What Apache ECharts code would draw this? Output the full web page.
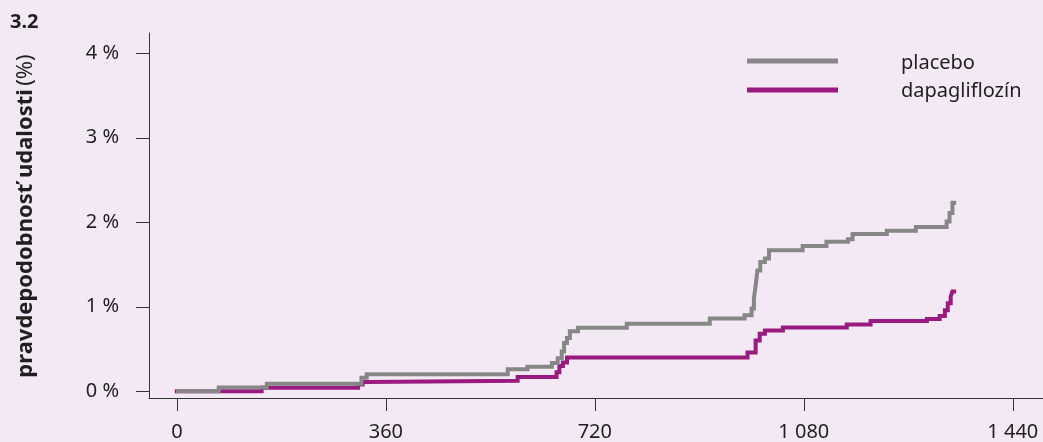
<!DOCTYPE html>
<html>
<head>
<meta charset="utf-8">
<script src="https://cdn.jsdelivr.net/npm/echarts@6/dist/echarts.min.js"></script>
<style>
  html, body { margin: 0; padding: 0; background: #f3e9f5; }
  #chart { width: 1043px; height: 442px; }
</style>
</head>
<body>
<div id="chart"></div>
<script>
// ---- data (day, cumulative event probability in %) ----
const placeboData = [
  [2, 0], [72, 0.045], [155, 0.09], [318, 0.16], [327, 0.20], [570, 0.26], [604, 0.29],
  [646, 0.335], [656, 0.39], [663, 0.47], [667, 0.57], [672, 0.63], [677, 0.71],
  [691, 0.75], [775, 0.80], [918, 0.86], [978, 0.90], [990, 0.98], [994, 1.10],
  [997, 1.25], [1000, 1.43], [1005, 1.53], [1013, 1.57], [1020, 1.67], [1078, 1.72],
  [1119, 1.77], [1156, 1.80], [1164, 1.86], [1223, 1.90], [1273, 1.945], [1326, 2.01],
  [1331, 2.11], [1336, 2.23], [1339, 2.23]
];
const dapagliflozinData = [
  [0, 0], [146, 0.04], [312, 0.08], [320, 0.11], [329, 0.125], [587, 0.17], [654, 0.225],
  [659, 0.30], [665, 0.34], [672, 0.40], [983, 0.46], [997, 0.60], [1004, 0.68],
  [1013, 0.72], [1044, 0.755], [1154, 0.79], [1195, 0.83], [1292, 0.855], [1314, 0.89],
  [1323, 0.96], [1328, 1.04], [1333, 1.12], [1336, 1.18], [1339, 1.18]
];
const seriesNames = ['placebo', 'dapagliflozín'];
const xTickValues = [0, 360, 720, 1080, 1440];
const xTickLabels = ['0', '360', '720', '1 080', '1 440'];
const yTickValues = [0, 1, 2, 3, 4];
const yTickLabels = ['0 %', '1 %', '2 %', '3 %', '4 %'];
const figureLabel = '3.2';
const yAxisTitleBold = 'pravdepodobnosť udalosti';
const yAxisTitleUnit = '(%)';

const GRAY = '#878787';
const PURPLE = '#9a1b80';
const FONT = 'Noto Sans';
const TXT = '#1f1f1f';

const chart = echarts.init(document.getElementById('chart'), null, { renderer: 'canvas' });
chart.setOption({
  backgroundColor: '#f3e9f5',
  animation: false,
  grid: { left: 149, right: 0, top: 33, bottom: 40, containLabel: false },
  xAxis: {
    type: 'value',
    min: -48, max: 1492,
    axisLine: { show: true, onZero: false, lineStyle: { color: '#333', width: 1 } },
    axisTick: { show: true, length: 13, customValues: xTickValues, lineStyle: { color: '#333', width: 1 } },
    axisLabel: {
      customValues: xTickValues,
      margin: 24,
      fontFamily: FONT, fontSize: 20, color: TXT,
      formatter: v => xTickLabels[xTickValues.indexOf(v)]
    },
    splitLine: { show: false }
  },
  yAxis: {
    type: 'value',
    min: -0.08, max: 4.24,
    axisLine: { show: true, onZero: false, lineStyle: { color: '#333', width: 1 } },
    axisTick: { show: true, length: 13, customValues: yTickValues, lineStyle: { color: '#333', width: 1 } },
    axisLabel: {
      customValues: yTickValues,
      margin: 30,
      fontFamily: FONT, fontSize: 20, color: TXT,
      formatter: v => yTickLabels[yTickValues.indexOf(v)]
    },
    splitLine: { show: false }
  },
  series: [
    {
      name: seriesNames[1], type: 'line', step: 'end', data: dapagliflozinData,
      showSymbol: false, lineStyle: { color: PURPLE, width: 4, cap: 'square', join: 'miter' },
      itemStyle: { color: PURPLE }, z: 2
    },
    {
      name: seriesNames[0], type: 'line', step: 'end', data: placeboData,
      showSymbol: false, lineStyle: { color: GRAY, width: 4, cap: 'square', join: 'miter' },
      itemStyle: { color: GRAY }, z: 3
    }
  ],
  graphic: [
    { type: 'text', left: 10, top: 12, style: { text: figureLabel, font: 'bold 20px "Noto Sans"', fill: TXT } },
    {
      type: 'text', x: 26, y: 216, rotation: Math.PI / 2,
      style: {
        text: '{b|' + yAxisTitleBold + '} {n|' + yAxisTitleUnit + '}',
        align: 'center', verticalAlign: 'middle',
        rich: {
          b: { fontFamily: FONT, fontSize: 22, fontWeight: 'bold', fill: TXT, color: TXT },
          n: { fontFamily: FONT, fontSize: 22, fontWeight: 'normal', fill: TXT, color: TXT }
        }
      }
    },
    { type: 'line', shape: { x1: 747, y1: 61, x2: 838, y2: 61 }, style: { stroke: GRAY, lineWidth: 5 } },
    { type: 'line', shape: { x1: 747, y1: 90, x2: 838, y2: 90 }, style: { stroke: PURPLE, lineWidth: 5 } },
    { type: 'text', x: 901, y: 63, style: { text: seriesNames[0], font: '20px "Noto Sans"', fill: TXT, verticalAlign: 'middle' } },
    { type: 'text', x: 901, y: 91, style: { text: seriesNames[1], font: '20px "Noto Sans"', fill: TXT, verticalAlign: 'middle' } }
  ]
});
</script>
</body>
</html>
